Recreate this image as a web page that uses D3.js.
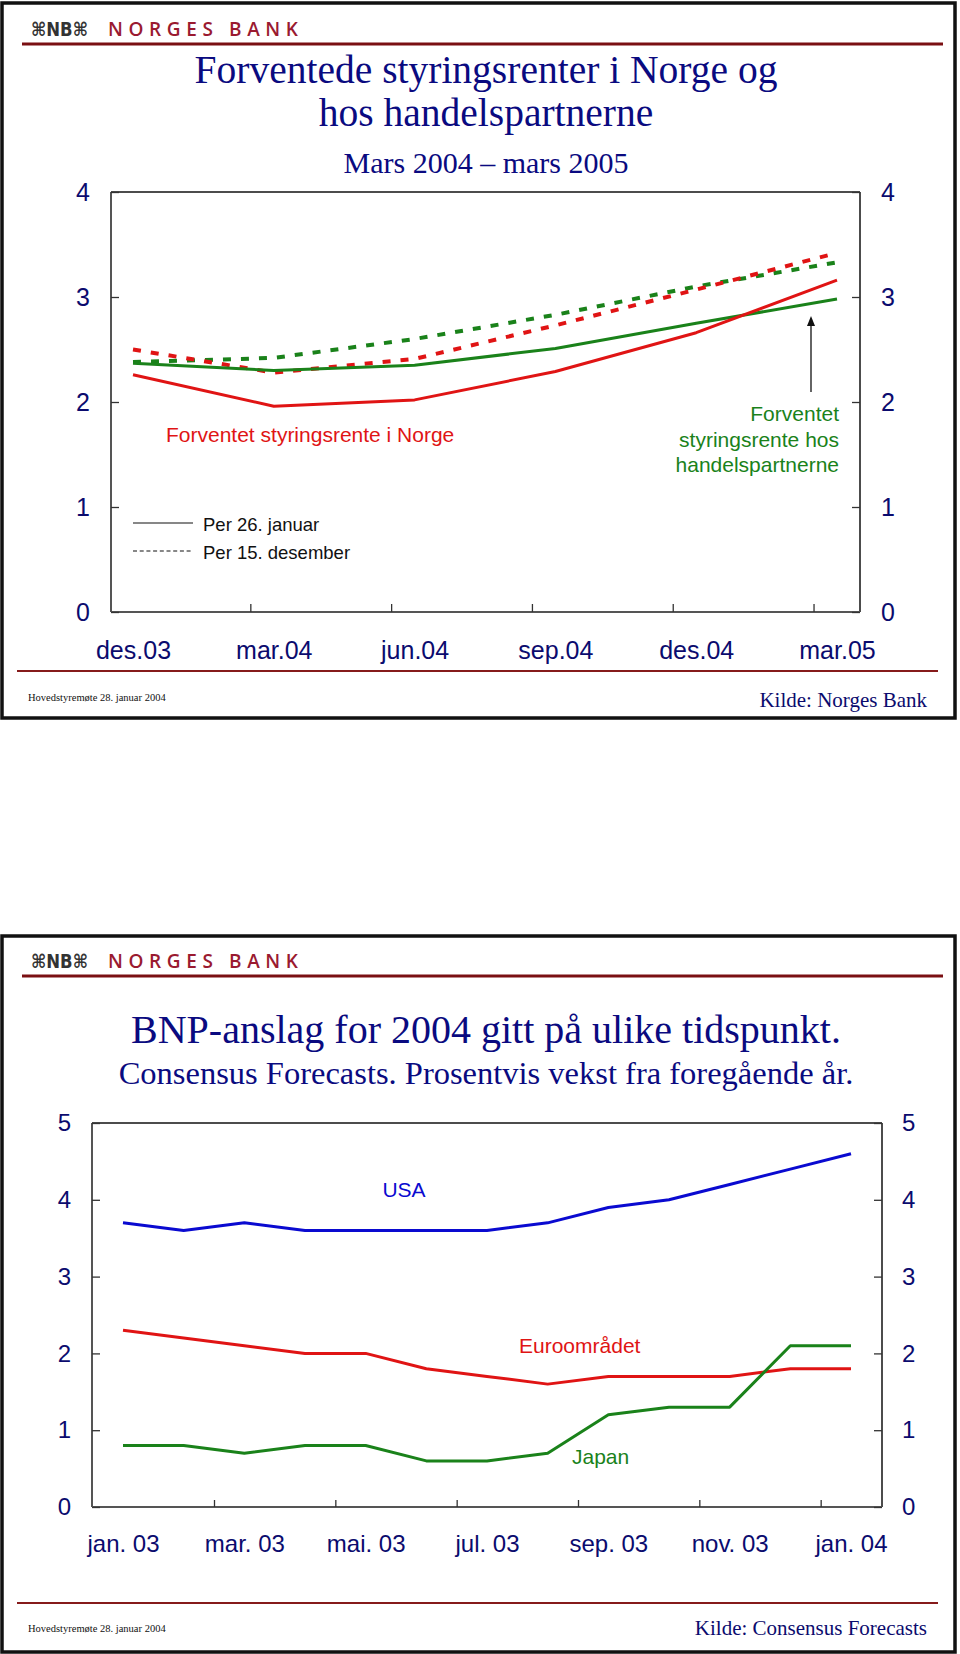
<!DOCTYPE html>
<html>
<head>
<meta charset="utf-8">
<script src="https://cdn.jsdelivr.net/npm/d3@7"></script>
<style>
  html, body { margin: 0; padding: 0; background: #fff; }
  svg { display: block; }
</style>
</head>
<body>
<svg id="chart" width="960" height="1654"></svg>
<script>
// ---------- Panel 1 data ----------
const p1Labels = ["des.03", "mar.04", "jun.04", "sep.04", "des.04", "mar.05"];
const p1Months = [0, 3, 6, 9, 12, 15];
const p1TickMonths = [2.5, 5.5, 8.5, 11.5, 14.5];
const p1YTicks = [0, 1, 2, 3, 4];
const norgeJan = [2.26, 1.96, 2.02, 2.29, 2.66, 3.16];
const handelJan = [2.37, 2.30, 2.35, 2.51, 2.75, 2.98];
const norgeDec = [2.50, 2.28, 2.41, 2.73, 3.07, 3.42];
const handelDec = [2.38, 2.42, 2.60, 2.83, 3.10, 3.33];
const legendLabels = ["Per 26. januar", "Per 15. desember"];

// ---------- Panel 2 data ----------
const p2Labels = ["jan. 03", "mar. 03", "mai. 03", "jul. 03", "sep. 03", "nov. 03", "jan. 04"];
const p2LabelIdx = [0, 2, 4, 6, 8, 10, 12];
const p2TickIdx = [1.5, 3.5, 5.5, 7.5, 9.5, 11.5];
const p2YTicks = [0, 1, 2, 3, 4, 5];
const usa = [3.7, 3.6, 3.7, 3.6, 3.6, 3.6, 3.6, 3.7, 3.9, 4.0, 4.2, 4.4, 4.6];
const euro = [2.3, 2.2, 2.1, 2.0, 2.0, 1.8, 1.7, 1.6, 1.7, 1.7, 1.7, 1.8, 1.8];
const japan = [0.8, 0.8, 0.7, 0.8, 0.8, 0.6, 0.6, 0.7, 1.2, 1.3, 1.3, 2.1, 2.1];

// ---------- styles ----------
const NAVY = "#0b0b6e";
const TITLE = "#0a0a80";
const RED = "#e01414";
const GREEN = "#1a821a";
const BLUE = "#0a0ad0";
const DARKRED = "#861b1b";
const SANS = "'Liberation Sans', Arial, sans-serif";
const SERIF = "'Liberation Serif', 'Times New Roman', serif";

const svg = d3.select("#chart");

function header(g, y0) {
  g.append("text").attr("x", 31).attr("y", y0 + 36)
    .attr("font-family", "'DejaVu Sans', sans-serif").attr("font-size", 19).attr("font-weight", "bold")
    .attr("fill", "#333").attr("textLength", 57).attr("lengthAdjust", "spacingAndGlyphs")
    .text("\u2318NB\u2318");
  g.append("text").attr("x", 108).attr("y", y0 + 36)
    .attr("font-family", "'Open Sans', sans-serif").attr("font-size", 19).attr("font-weight", 600)
    .attr("fill", "#9a1a30").attr("textLength", 190).attr("lengthAdjust", "spacing")
    .text("NORGES BANK");
  g.append("line").attr("x1", 22).attr("x2", 943).attr("y1", y0 + 44).attr("y2", y0 + 44)
    .attr("stroke", "#7a0f12").attr("stroke-width", 3);
}

function frame(y, h) {
  svg.append("rect").attr("x", 2).attr("y", y).attr("width", 953).attr("height", h)
    .attr("fill", "none").attr("stroke", "#111").attr("stroke-width", 3.5);
}

function footer(yLine, yText, kilde, kildeY) {
  svg.append("line").attr("x1", 17).attr("x2", 938).attr("y1", yLine).attr("y2", yLine)
    .attr("stroke", DARKRED).attr("stroke-width", 2);
  svg.append("text").attr("x", 28).attr("y", yText)
    .attr("font-family", SERIF).attr("font-size", 10.5).attr("fill", "#111")
    .text("Hovedstyremøte 28. januar 2004");
  svg.append("text").attr("x", 927).attr("y", kildeY).attr("text-anchor", "end")
    .attr("font-family", SERIF).attr("font-size", 21).attr("fill", NAVY)
    .text(kilde);
}

function styleAxis(sel, fontSize) {
  sel.select(".domain").remove();
  sel.selectAll(".tick line").attr("stroke", "#333").attr("stroke-width", 1.3);
  sel.selectAll(".tick text").attr("font-family", SANS).attr("font-size", fontSize).attr("fill", NAVY);
}

// =================== PANEL 1 ===================
frame(3, 715);
header(svg.append("g"), 0);

svg.append("text").attr("x", 486).attr("y", 83).attr("text-anchor", "middle")
  .attr("font-family", SERIF).attr("font-size", 39.5).attr("fill", TITLE)
  .text("Forventede styringsrenter i Norge og");
svg.append("text").attr("x", 486).attr("y", 126).attr("text-anchor", "middle")
  .attr("font-family", SERIF).attr("font-size", 39.5).attr("fill", TITLE)
  .text("hos handelspartnerne");
svg.append("text").attr("x", 486).attr("y", 173).attr("text-anchor", "middle")
  .attr("font-family", SERIF).attr("font-size", 30).attr("fill", TITLE)
  .text("Mars 2004 \u2013 mars 2005");

const p1 = { left: 111, right: 860, top: 192, bottom: 612 };
const x1 = d3.scaleLinear().domain([0, 15]).range([133, 837]);
const y1 = d3.scaleLinear().domain([0, 4]).range([p1.bottom, p1.top]);

svg.append("line").attr("x1", p1.left).attr("x2", p1.right).attr("y1", p1.top).attr("y2", p1.top)
  .attr("stroke", "#111").attr("stroke-width", 1.5);
svg.append("line").attr("x1", p1.right).attr("x2", p1.right).attr("y1", p1.top).attr("y2", p1.bottom)
  .attr("stroke", "#111").attr("stroke-width", 1.5);
svg.append("line").attr("x1", p1.left).attr("x2", p1.left).attr("y1", p1.top).attr("y2", p1.bottom)
  .attr("stroke", "#555").attr("stroke-width", 2);
svg.append("line").attr("x1", p1.left).attr("x2", p1.right).attr("y1", p1.bottom).attr("y2", p1.bottom)
  .attr("stroke", "#555").attr("stroke-width", 2);

svg.append("g").attr("transform", `translate(${p1.left},0)`)
  .call(d3.axisLeft(y1).tickValues(p1YTicks).tickSize(-8).tickPadding(21).tickFormat(d3.format("d")))
  .call(s => styleAxis(s, 25));
svg.append("g").attr("transform", `translate(${p1.right},0)`)
  .call(d3.axisRight(y1).tickValues(p1YTicks).tickSize(-8).tickPadding(21).tickFormat(d3.format("d")))
  .call(s => styleAxis(s, 25));
svg.append("g").attr("transform", `translate(0,${p1.bottom})`)
  .call(d3.axisBottom(x1).tickValues(p1TickMonths).tickSize(-8).tickFormat(""))
  .call(s => styleAxis(s, 25));
svg.append("g").attr("transform", `translate(0,${p1.bottom})`)
  .call(d3.axisBottom(x1).tickValues(p1Months).tickSize(0).tickPadding(29).tickFormat((d, i) => p1Labels[i]))
  .call(s => { styleAxis(s, 25); s.selectAll(".tick line").remove(); });

const line1 = d3.line().x((d, i) => x1(p1Months[i])).y(d => y1(d));
const p1Series = [
  { data: handelDec, color: GREEN, dash: "8,10", w: 4 },
  { data: norgeDec, color: RED, dash: "8,10", w: 4 },
  { data: handelJan, color: GREEN, dash: null, w: 3 },
  { data: norgeJan, color: RED, dash: null, w: 3 }
];
p1Series.forEach(s => {
  svg.append("path").datum(s.data).attr("d", line1)
    .attr("fill", "none").attr("stroke", s.color).attr("stroke-width", s.w)
    .attr("stroke-dasharray", s.dash).attr("stroke-linejoin", "round");
});

svg.append("text").attr("x", 166).attr("y", 442)
  .attr("font-family", SANS).attr("font-size", 21).attr("fill", RED)
  .text("Forventet styringsrente i Norge");
["Forventet", "styringsrente hos", "handelspartnerne"].forEach((t, i) => {
  svg.append("text").attr("x", 839).attr("y", 421 + i * 25.5).attr("text-anchor", "end")
    .attr("font-family", SANS).attr("font-size", 21).attr("fill", GREEN).text(t);
});
svg.append("line").attr("x1", 811).attr("x2", 811).attr("y1", 392).attr("y2", 324)
  .attr("stroke", "#111").attr("stroke-width", 1.3);
svg.append("path").attr("d", "M811,316 L807,326 L815,326 Z").attr("fill", "#111");

legendLabels.forEach((t, i) => {
  const ly = 523 + i * 28;
  svg.append("line").attr("x1", 133).attr("x2", 193).attr("y1", ly).attr("y2", ly)
    .attr("stroke", "#111").attr("stroke-width", 1.2)
    .attr("stroke-dasharray", i === 1 ? "4,2.7" : null);
  svg.append("text").attr("x", 203).attr("y", ly + 8)
    .attr("font-family", SANS).attr("font-size", 18.5).attr("fill", "#111").text(t);
});

footer(671, 701, "Kilde: Norges Bank", 707);

// =================== PANEL 2 ===================
frame(936, 716);
header(svg.append("g"), 932);

svg.append("text").attr("x", 486).attr("y", 1043).attr("text-anchor", "middle")
  .attr("font-family", SERIF).attr("font-size", 40).attr("fill", TITLE)
  .text("BNP-anslag for 2004 gitt på ulike tidspunkt.");
svg.append("text").attr("x", 486).attr("y", 1084).attr("text-anchor", "middle")
  .attr("font-family", SERIF).attr("font-size", 32.5).attr("fill", TITLE)
  .text("Consensus Forecasts. Prosentvis vekst fra foregående år.");

const p2 = { left: 92, right: 882, top: 1123, bottom: 1507 };
const x2 = d3.scaleLinear().domain([0, 12]).range([123, 851]);
const y2 = d3.scaleLinear().domain([0, 5]).range([p2.bottom, p2.top]);

svg.append("line").attr("x1", p2.left).attr("x2", p2.right).attr("y1", p2.top).attr("y2", p2.top)
  .attr("stroke", "#111").attr("stroke-width", 1.5);
svg.append("line").attr("x1", p2.right).attr("x2", p2.right).attr("y1", p2.top).attr("y2", p2.bottom)
  .attr("stroke", "#111").attr("stroke-width", 1.5);
svg.append("line").attr("x1", p2.left).attr("x2", p2.left).attr("y1", p2.top).attr("y2", p2.bottom)
  .attr("stroke", "#555").attr("stroke-width", 2);
svg.append("line").attr("x1", p2.left).attr("x2", p2.right).attr("y1", p2.bottom).attr("y2", p2.bottom)
  .attr("stroke", "#555").attr("stroke-width", 2);

svg.append("g").attr("transform", `translate(${p2.left},0)`)
  .call(d3.axisLeft(y2).tickValues(p2YTicks).tickSize(-8).tickPadding(21).tickFormat(d3.format("d")))
  .call(s => styleAxis(s, 24));
svg.append("g").attr("transform", `translate(${p2.right},0)`)
  .call(d3.axisRight(y2).tickValues(p2YTicks).tickSize(-8).tickPadding(20).tickFormat(d3.format("d")))
  .call(s => styleAxis(s, 24));
svg.append("g").attr("transform", `translate(0,${p2.bottom})`)
  .call(d3.axisBottom(x2).tickValues(p2TickIdx).tickSize(-7).tickFormat(""))
  .call(s => styleAxis(s, 24));
svg.append("g").attr("transform", `translate(0,${p2.bottom})`)
  .call(d3.axisBottom(x2).tickValues(p2LabelIdx).tickSize(0).tickPadding(28).tickFormat((d, i) => p2Labels[i]))
  .call(s => { styleAxis(s, 24); s.selectAll(".tick line").remove(); });

const line2 = d3.line().x((d, i) => x2(i)).y(d => y2(d));
[{ data: usa, color: BLUE }, { data: euro, color: RED }, { data: japan, color: GREEN }].forEach(s => {
  svg.append("path").datum(s.data).attr("d", line2)
    .attr("fill", "none").attr("stroke", s.color).attr("stroke-width", 3)
    .attr("stroke-linejoin", "round");
});

svg.append("text").attr("x", 404).attr("y", 1197).attr("text-anchor", "middle")
  .attr("font-family", SANS).attr("font-size", 21).attr("fill", BLUE).text("USA");
svg.append("text").attr("x", 519).attr("y", 1353)
  .attr("font-family", SANS).attr("font-size", 21).attr("fill", RED).text("Euroområdet");
svg.append("text").attr("x", 572).attr("y", 1464)
  .attr("font-family", SANS).attr("font-size", 21).attr("fill", GREEN).text("Japan");

footer(1603, 1632, "Kilde: Consensus Forecasts", 1635);
</script>
</body>
</html>
